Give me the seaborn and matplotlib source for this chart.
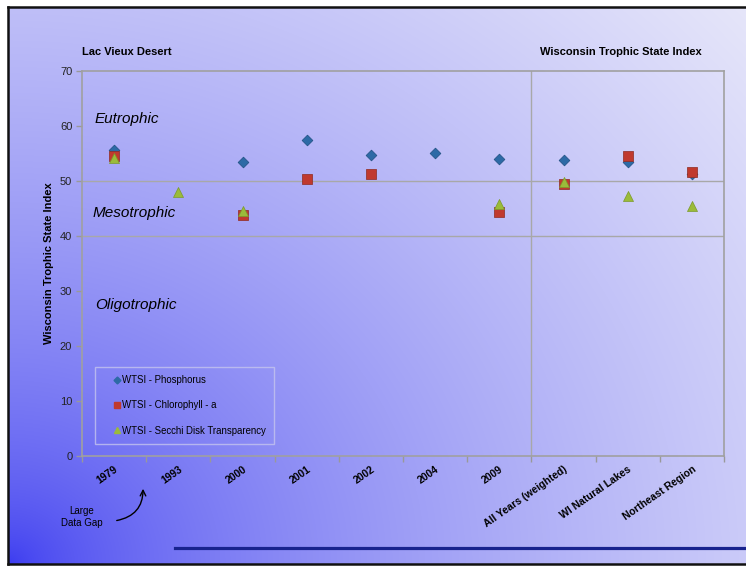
import numpy as np
import pandas as pd
import matplotlib
matplotlib.use("Agg")
import matplotlib.pyplot as plt
from matplotlib.lines import Line2D
import seaborn as sns

# ---- data -------------------------------------------------------------
categories = ["1979", "1993", "2000", "2001", "2002", "2004", "2009",
              "All Years (weighted)", "WI Natural Lakes", "Northeast Region"]
phosphorus = [55.6, np.nan, 53.5, 57.4, 54.7, 55.1, 54.0, 53.8, 53.5, 51.2]
chlorophyll = [54.6, np.nan, 43.9, 50.4, 51.3, np.nan, 44.3, 49.5, 54.5, 51.7]
secchi = [54.1, 48.0, 44.5, np.nan, np.nan, np.nan, 45.8, 49.8, 47.2, 45.5]
series_names = ["WTSI - Phosphorus", "WTSI - Chlorophyll - a",
                "WTSI - Secchi Disk Transparency"]
y_ticks = [0, 10, 20, 30, 40, 50, 60, 70]

positions = np.arange(len(categories))
df = pd.concat([
    pd.DataFrame({"pos": positions, "cat": categories, "val": vals, "series": name})
    for name, vals in zip(series_names, [phosphorus, chlorophyll, secchi])
]).dropna()

colors = {series_names[0]: "#2d6aa6", series_names[1]: "#c0392e",
          series_names[2]: "#9bbb3a"}
edges = {series_names[0]: "#1f4f80", series_names[1]: "#8e2a20",
         series_names[2]: "#7a9a2a"}
markers = {series_names[0]: "D", series_names[1]: "s", series_names[2]: "^"}
sizes = {series_names[0]: 30, series_names[1]: 48, series_names[2]: 52}

plt.rcParams["font.family"] = ["Liberation Sans", "DejaVu Sans"]

W, H = 746, 566
fig = plt.figure(figsize=(W / 100, H / 100), dpi=100, facecolor="white")

# ---- slide background gradient ---------------------------------------
x0, y0, x1, y1 = 8, 7, 746, 564
bg = fig.add_axes([x0 / W, (H - y1) / H, (x1 - x0) / W, (y1 - y0) / H], zorder=-5)
xs = np.arange(x0, x1)
ys = np.arange(y0, y1)
XX, YY = np.meshgrid(xs, ys)
d = np.hypot(XX - x0, (y1 - YY) * 1.15)
t = np.clip(d / d.max(), 0, 1) ** 0.6
blue = np.array([55, 55, 240]) / 255
light = np.array([230, 230, 250]) / 255
img = blue[None, None, :] * (1 - t[..., None]) + light[None, None, :] * t[..., None]
bg.imshow(img, aspect="auto", interpolation="bilinear")
bg.set_axis_off()

# frame lines
for (xa, ya, xb, yb) in [(x0, y0, x0, y1), (x0, y0, W, y0), (x0, y1, W, y1)]:
    fig.add_artist(Line2D([xa / W, xb / W], [1 - ya / H, 1 - yb / H],
                          color="#111111", lw=1.8, transform=fig.transFigure))
# navy rule along the bottom
fig.add_artist(Line2D([175 / W, 1.0], [1 - 548 / H, 1 - 548 / H],
                      color="#18238e", lw=2.3, transform=fig.transFigure))

# ---- main axes --------------------------------------------------------
ax = fig.add_axes([82 / W, (H - 456) / H, (724 - 82) / W, (456 - 71) / H])
ax.set_facecolor("none")

for name in series_names:
    sub = df[df["series"] == name]
    sns.scatterplot(data=sub, x="pos", y="val", ax=ax, marker=markers[name],
                    color=colors[name], edgecolor=edges[name], linewidth=0.5,
                    s=sizes[name], zorder=3, legend=False)

ax.set_xlim(-0.5, len(categories) - 0.5)
ax.set_ylim(0, 70)
ax.set_yticks(y_ticks)
ax.set_xticks(positions)
ax.set_xticks(np.arange(-0.5, len(categories), 1.0), minor=True)
ax.tick_params(axis="x", which="major", length=0, pad=6)
ax.tick_params(axis="x", which="minor", length=4, color="#999999", width=1)
ax.tick_params(axis="y", length=4, color="#999999", width=1, labelsize=8,
               labelcolor="#222222", pad=3)
ax.set_xticklabels(categories, rotation=35, ha="right", va="top",
                   rotation_mode="anchor", fontsize=7.5, fontweight="bold")
ax.set_xlabel("")
ax.set_ylabel("Wisconsin Trophic State Index", fontsize=8, fontweight="bold",
              labelpad=4)

for sp in ax.spines.values():
    sp.set_color("#a0a0a0")
    sp.set_linewidth(1.2)
for yv in (40, 50):
    ax.axhline(yv, color="#a8a8a8", lw=1, zorder=1)
ax.axvline(6.5, color="#a8a8a8", lw=1, zorder=1)

# trophic class labels
ax.text(-0.3, 61.2, "Eutrophic", fontsize=11, fontstyle="italic", va="center")
ax.text(-0.33, 44.2, "Mesotrophic", fontsize=11, fontstyle="italic", va="center")
ax.text(-0.3, 27.5, "Oligotrophic", fontsize=11, fontstyle="italic", va="center")

# legend
handles = [Line2D([], [], ls="none", marker=markers[n], color=colors[n],
                  markersize={"D": 3.5, "s": 4.5, "^": 5}[markers[n]])
           for n in series_names]
leg = ax.legend(handles, series_names, loc="lower left",
                bbox_to_anchor=(0.02, 0.03), fontsize=6.9, frameon=True,
                fancybox=False, handlelength=2.8, handletextpad=-0.9,
                labelspacing=1.6, borderpad=0.9, borderaxespad=0)
leg.get_frame().set_facecolor("none")
leg.get_frame().set_edgecolor("#c4c4ee")
leg.get_frame().set_linewidth(1)

# headers
fig.text(82 / W, 1 - 52 / H, "Lac Vieux Desert", fontsize=8, fontweight="bold",
         va="center", ha="left")
fig.text(702 / W, 1 - 52 / H, "Wisconsin Trophic State Index", fontsize=8,
         fontweight="bold", va="center", ha="right")

# data gap note
fig.text(82 / W, 1 - 517 / H, "Large\nData Gap", fontsize=7, ha="center",
         va="center", linespacing=1.15)
ax.annotate("", xy=(143 / W, 1 - 486 / H), xycoords="figure fraction",
            xytext=(114 / W, 1 - 521 / H), textcoords="figure fraction",
            arrowprops=dict(arrowstyle="->", color="black", lw=1,
                            connectionstyle="arc3,rad=0.45"))

fig.savefig("out.png", dpi=100, facecolor="white")
